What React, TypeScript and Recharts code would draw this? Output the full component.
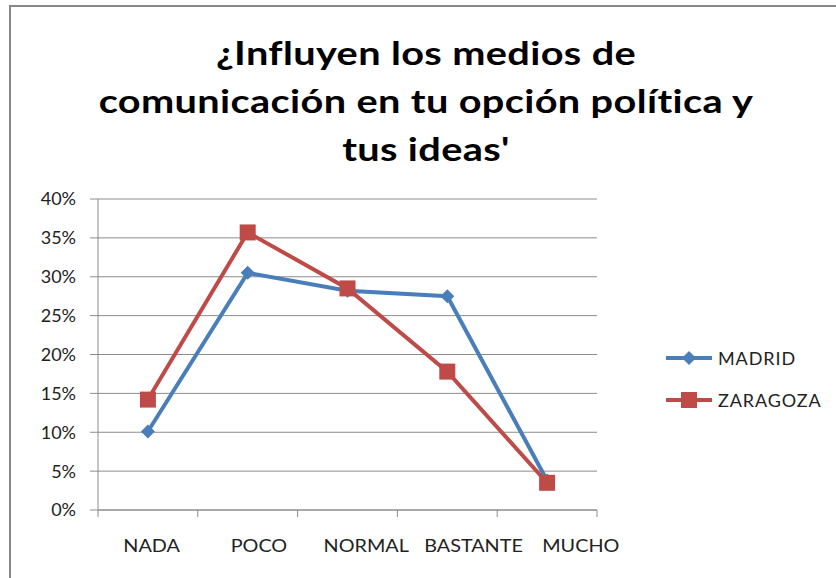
import { CartesianGrid, Line, LineChart, XAxis, YAxis } from "recharts";

const categories = ["NADA", "POCO", "NORMAL", "BASTANTE", "MUCHO"];
const madrid = [10.1, 30.5, 28.2, 27.5, 3.8];
const zaragoza = [14.2, 35.7, 28.5, 17.8, 3.5];
const yTicks = [0, 5, 10, 15, 20, 25, 30, 35, 40];

const titleLines = [
  "¿Influyen los medios de",
  "comunicación en tu opción política y",
  "tus ideas'",
];

const BLUE = "#4A7EBB";
const RED = "#BE4B48";
const GRID = "#8c8c8c";
const FONT = "Lato, 'DejaVu Sans', sans-serif";
const PLOT_LEFT = 98;

// category i sits at i + 0.5 on a 0..5 numeric axis, so tick marks can fall on the boundaries
const data = categories.map((name, i) => ({
  name,
  x: i + 0.5,
  madrid: madrid[i],
  zaragoza: zaragoza[i],
}));
const xTicks = Array.from({ length: categories.length * 2 + 1 }, (_, i) => i / 2);

const series = [
  { key: "madrid", label: "MADRID", color: BLUE, shape: "diamond" },
  { key: "zaragoza", label: "ZARAGOZA", color: RED, shape: "square" },
];

function Marker({ cx, cy, color, shape }: { cx: number; cy: number; color: string; shape: string }) {
  if (cx == null || cy == null) return null;
  if (shape === "diamond") {
    const r = 7;
    return (
      <polygon
        points={`${cx},${cy - r} ${cx + r},${cy} ${cx},${cy + r} ${cx - r},${cy}`}
        fill={color}
      />
    );
  }
  const s = 8;
  return <rect x={cx - s} y={cy - s} width={s * 2} height={s * 2} fill={color} />;
}

function XTick(props: any) {
  const { x, y, payload } = props;
  const v = payload.value;
  if (Number.isInteger(v)) {
    return <line x1={x} y1={y} x2={x} y2={y + 7} stroke={GRID} strokeWidth={1} />;
  }
  // the original's labels drift a little to the right and run wider than the slots
  const lx = PLOT_LEFT + 1.075 * (x - PLOT_LEFT);
  return (
    <text
      transform={`translate(${lx},${y + 42}) scale(1.1,1)`}
      textAnchor="middle"
      fill="#222"
      fontSize={18}
      fontFamily={FONT}
    >
      {categories[Math.floor(v)]}
    </text>
  );
}

function LegendBox() {
  return (
    <div
      style={{
        position: "absolute",
        left: 666,
        top: 337,
        fontFamily: FONT,
        fontSize: 18,
        letterSpacing: 0.9,
        color: "#222",
      }}
    >
      {series.map((s) => (
        <div key={s.key} style={{ display: "flex", alignItems: "center", height: 42 }}>
          <svg width={50} height={20}>
            <line x1={0} y1={10} x2={46} y2={10} stroke={s.color} strokeWidth={4} />
            <Marker cx={23} cy={10} color={s.color} shape={s.shape} />
          </svg>
          <span style={{ marginLeft: 2 }}>{s.label}</span>
        </div>
      ))}
    </div>
  );
}

export default function App() {
  return (
    <div
      style={{
        position: "absolute",
        left: 0,
        top: 0,
        width: 836,
        height: 578,
        background: "#fff",
        overflow: "hidden",
      }}
    >
      <div
        style={{
          position: "absolute",
          left: 9,
          top: 5,
          width: 840,
          height: 590,
          borderLeft: "2px solid #888",
          borderTop: "2px solid #888",
        }}
      />
      <div
        style={{
          position: "absolute",
          left: 26,
          top: 29,
          width: 800,
          textAlign: "center",
          fontFamily: FONT,
          fontWeight: 700,
          fontSize: 32,
          lineHeight: "48px",
          letterSpacing: 0.3,
          color: "#000",
          whiteSpace: "nowrap",
          transform: "scaleX(1.24)",
          transformOrigin: "400px 0",
        }}
      >
        {titleLines.map((t) => (
          <div key={t}>{t}</div>
        ))}
      </div>
      <LineChart
        width={836}
        height={578}
        data={data}
        margin={{ top: 199, right: 239, bottom: 28, left: 10 }}
        style={{ position: "absolute", left: 0, top: 0 }}
      >
        <CartesianGrid vertical={false} stroke={GRID} strokeWidth={1} />
        <XAxis
          dataKey="x"
          type="number"
          domain={[0, categories.length]}
          ticks={xTicks}
          interval={0}
          tickSize={0}
          tickMargin={0}
          tickLine={false}
          tick={<XTick />}
          height={40}
          stroke={GRID}
          allowDataOverflow
        />
        <YAxis
          type="number"
          domain={[0, 40]}
          ticks={yTicks}
          interval={0}
          width={PLOT_LEFT - 10}
          tickSize={8}
          tickMargin={14}
          tickFormatter={(v: number) => `${v}%`}
          tick={{ fill: "#222", fontSize: 18, fontFamily: FONT }}
          stroke={GRID}
          tickLine={{ stroke: GRID }}
        />
        {series.map((s) => (
          <Line
            key={s.key}
            dataKey={s.key}
            stroke={s.color}
            strokeWidth={4}
            isAnimationActive={false}
            dot={(p: any) => (
              <Marker key={`${s.key}-${p.index}`} cx={p.cx} cy={p.cy} color={s.color} shape={s.shape} />
            )}
            activeDot={false}
          />
        ))}
      </LineChart>
      <LegendBox />
    </div>
  );
}
